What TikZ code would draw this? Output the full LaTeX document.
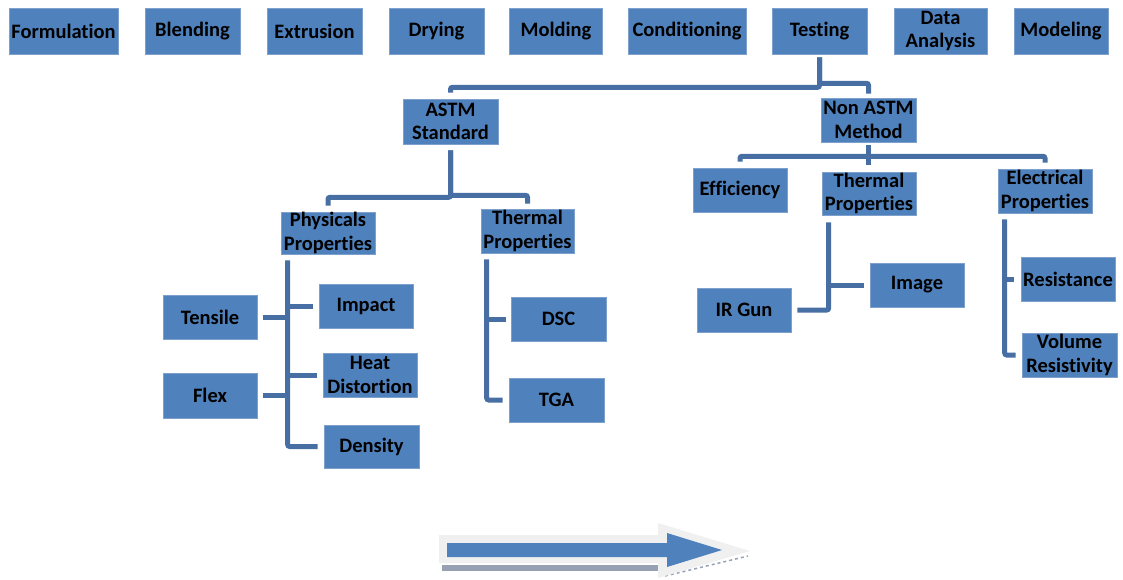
\documentclass[tikz,border=0pt]{standalone}
\usepackage{fontspec}
\setmainfont{Carlito}[RawFeature=-liga]
\usetikzlibrary{calc}
\definecolor{boxblue}{RGB}{79,129,189}
\definecolor{boxedge}{RGB}{125,160,205}
\definecolor{linkblue}{RGB}{72,111,163}
\definecolor{arrowout}{RGB}{240,240,240}
\definecolor{arrowshadow}{RGB}{150,162,180}
\begin{document}
\begin{tikzpicture}[x=1pt,y=-1pt,
  box/.style={rectangle, fill=boxblue, draw=boxedge, line width=0.6pt, inner sep=0pt,
    align=center, font=\fontsize{20.5}{23.5}\selectfont\bfseries, text=black},
  sz/.style 2 args={minimum width=#1pt, minimum height=#2pt},
  conn/.style={draw=linkblue, line width=5pt, rounded corners=2pt}]
\useasboundingbox (0,0) rectangle (1123,580);

% top row
\node[box, sz={109}{46}] (form)  at (63.5,31)  {Formulation};
\node[box, sz={95}{46}]  (blend) at (192.5,31) {Blending};
\node[box, sz={95}{46}]  (extr)  at (314.5,31) {Extrusion};
\node[box, sz={95}{46}]  (dry)   at (436.5,31) {Drying};
\node[box, sz={93}{46}]  (mold)  at (556,31)   {Molding};
\node[box, sz={118}{46}] (cond)  at (687,31)   {Conditioning};
\node[box, sz={95}{46}]  (test)  at (819.5,31) {Testing};
\node[box, sz={93}{46}]  (data)  at (940.5,31) {Data\\Analysis};
\node[box, sz={94}{46}]  (model) at (1061,31)  {Modeling};

% second level
\node[box, sz={95}{45}] (astm)    at (450.5,121.5) {ASTM\\Standard};
\node[box, sz={95}{44}] (nonastm) at (868.5,120)   {Non ASTM\\Method};

% third level
\node[box, sz={94}{42}] (phys)   at (328,233)    {Physicals\\Properties};
\node[box, sz={93}{44}] (therml) at (527.5,231)  {Thermal\\Properties};
\node[box, sz={94}{44}] (eff)    at (740,190)    {Efficiency};
\node[box, sz={94}{43}] (thermr) at (869,193.5)  {Thermal\\Properties};
\node[box, sz={94}{44}] (elec)   at (1045,191)   {Electrical\\Properties};

% fourth level
\node[box, sz={94}{44}] (tens)   at (210,317)    {Tensile};
\node[box, sz={94}{45}] (flex)   at (210,395.5)  {Flex};
\node[box, sz={94}{44}] (imp)    at (366,306)    {Impact};
\node[box, sz={94}{44}] (heat)   at (370,375)    {Heat\\Distortion};
\node[box, sz={95}{43}] (dens)   at (371.5,446.5){Density};
\node[box, sz={95}{44}] (dsc)    at (558.5,319)  {DSC};
\node[box, sz={95}{44}] (tga)    at (556.5,400)  {TGA};
\node[box, sz={94}{44}] (irgun)  at (744,310)    {IR Gun};
\node[box, sz={94}{44}] (image)  at (917,285)    {Image};
\node[box, sz={94}{44}] (resist) at (1068,279)   {Resistance};
\node[box, sz={95}{44}] (volume) at (1069.5,355) {Volume\\Resistivity};

% Testing -> ASTM / Non ASTM
\draw[conn] ($(test.south)+(0,3)$) -- ($(test.south)+(0,33)$) -| ($(astm.north)+(0,-6)$);
\draw[conn] ($(test.south)+(0,3)$) -- ($(test.south)+(0,29)$) -| ($(nonastm.north)+(0,-4)$);

% ASTM -> Physicals / Thermal
\draw[conn] ($(astm.south)+(0,6)$) -- ($(astm.south)+(0,53)$) -| ($(phys.north)+(0,-6)$);
\draw[conn] ($(astm.south)+(0,6)$) -- ($(astm.south)+(0,51)$) -| ($(therml.north)+(0,-5)$);

% Non ASTM -> Efficiency / Thermal / Electrical
\draw[conn] ($(nonastm.south)+(0,3)$) -- ($(nonastm.south)+(0,23)$);
\draw[conn] ($(nonastm.south)+(0,14)$) -| ($(eff.north)+(0,-6)$);
\draw[conn] ($(nonastm.south)+(0,14)$) -| ($(elec.north)+(0,-6)$);

% Physicals bus
\coordinate (pbus) at ($(phys.south west)+(7,6)$);
\draw[conn] (pbus) |- ($(dens.west)+(-6,0)$);
\draw[conn] ($(tens.east)+(6,0)$) -- (tens.east -| pbus);
\draw[conn] ($(flex.east)+(6,0)$) -- (flex.east -| pbus);
\draw[conn] (imp.west -| pbus) -- ($(imp.west)+(-6,0)$);
\draw[conn] (heat.west -| pbus) -- ($(heat.west)+(-6,0)$);

% Thermal (ASTM) bus
\coordinate (tlbus) at ($(therml.south west)+(6,6)$);
\draw[conn] (tlbus) |- ($(tga.west)+(-6,0)$);
\draw[conn] (dsc.west -| tlbus) -- ($(dsc.west)+(-5,0)$);

% Thermal (Non ASTM) bus
\coordinate (trbus) at ($(thermr.south west)+(7,7)$);
\draw[conn] (trbus) |- ($(irgun.east)+(6,0)$);
\draw[conn] (image.west -| trbus) -- ($(image.west)+(-6,0)$);

% Electrical bus
\coordinate (ebus) at ($(elec.south west)+(7,6)$);
\draw[conn] (ebus) |- ($(volume.west)+(-6,0)$);
\draw[conn] (resist.west -| ebus) -- ($(resist.west)+(-7,0)$);

% bottom arrow
\fill[arrowshadow] (442,565) rectangle (658,571);
\draw[arrowshadow, dashed, line width=1.5pt] (665,576) -- (748,556);
\fill[arrowout] (439,535) -- (658,535) -- (658,523) -- (750,551) -- (658,578) -- (658,563) -- (439,563) -- cycle;
\fill[boxblue] (447,543) -- (667,543) -- (667,533) -- (722,550) -- (667,567) -- (667,557) -- (447,557) -- cycle;
\end{tikzpicture}
\end{document}
